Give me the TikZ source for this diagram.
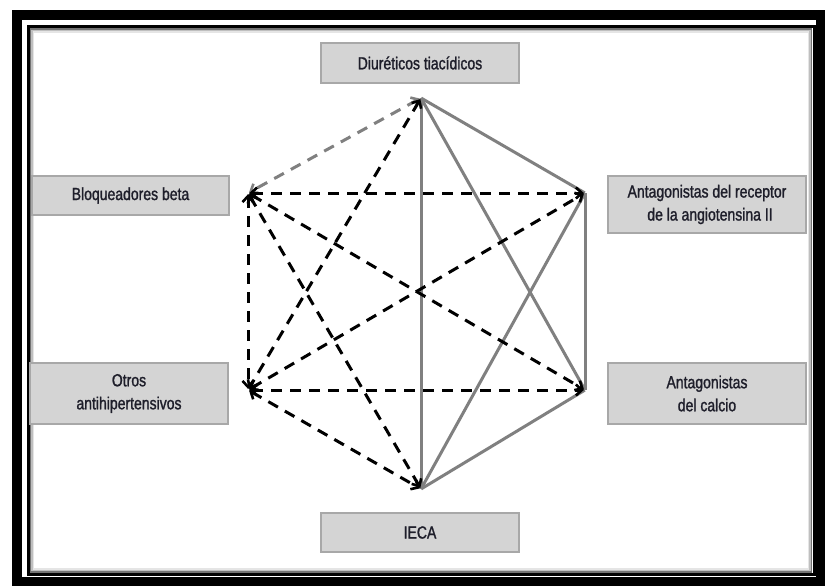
\documentclass[tikz,border=0pt]{standalone}
\usepackage{fontspec}
\setmainfont{Liberation Sans}[FakeStretch=0.8, FakeBold=1.3]
\usetikzlibrary{arrows.meta}
\definecolor{boxfill}{HTML}{D4D4D4}
\definecolor{boxline}{HTML}{A8A8A8}
\definecolor{txt}{HTML}{1E1E2A}
\definecolor{solidgray}{HTML}{808080}
\tikzset{
  labelbox/.style={draw=boxline, fill=boxfill, line width=1.2pt, inner sep=0pt, align=center,
     text=txt, font=\fontsize{17.5}{23}\selectfont},
  vtx/.style={inner sep=0pt, minimum size=0pt},
  dashlink/.style={black, line width=3pt, dash pattern=on 11pt off 8pt,
     {Straight Barb[length=6pt,width=11pt,line width=2.6pt]}-{Straight Barb[length=6pt,width=11pt,line width=2.6pt]}, shorten <=1pt, shorten >=1pt},
  greydash/.style={dashlink, solidgray},
  solidlink/.style={solidgray, line width=3pt},
}
\begin{document}
\begin{tikzpicture}[x=1pt,y=-1pt]
\useasboundingbox (0,0) rectangle (825,586);
\fill[white] (0,0) rectangle (825,586);
% frame
\draw[black, line width=10pt] (17,15) rectangle (821,582);
\draw[black, line width=3pt] (28,26.5) rectangle (814,574.5);
\draw[black!55, line width=1.5pt] (30.5,29) rectangle (811.5,572);
\draw[black!25, line width=1.5pt] (32,30.5) rectangle (810,570.5);
\draw[black!10, line width=1.5pt] (33.5,32) rectangle (808.5,569);
% label boxes
\node[labelbox, minimum width=198pt, minimum height=40pt] (diu) at (420,63) {Diuréticos tiacídicos};
\node[labelbox, minimum width=197pt, minimum height=39pt] (blo) at (130.5,195.5) {Bloqueadores beta};
\node[labelbox, minimum width=198pt, minimum height=57pt] (ara) at (707,204.5) {Antagonistas del receptor\\\hspace*{6pt}de la angiotensina II};
\node[labelbox, minimum width=198pt, minimum height=61pt] (otr) at (129,393.5) {Otros\\antihipertensivos};
\node[labelbox, minimum width=198pt, minimum height=61pt] (cal) at (707,393.5) {Antagonistas\\del calcio};
\node[labelbox, minimum width=198pt, minimum height=39pt] (iec) at (420,532.5) {IECA};
% vertices
\node[vtx] (T) at (421,98) {};
\node[vtx] (UL) at (248,193) {};
\node[vtx] (UR) at (585,193) {};
\node[vtx] (LL) at (248,390) {};
\node[vtx] (LR) at (585,390) {};
\node[vtx] (B) at (421,489) {};
% solid grey links
\draw[solidlink] (T) -- (UR);
\draw[solidlink] (T) -- (LR);
\draw[solidlink] (T) -- (B);
\draw[solidlink] (UR) -- (LR);
\draw[solidlink] (UR) -- (B);
\draw[solidlink] (LR) -- (B);
% dashed links
\draw[greydash] (T) -- (UL);
\draw[dashlink] (T) -- (LL);
\draw[dashlink] (UL) -- (UR);
\draw[dashlink] (UL) -- (LR);
\draw[dashlink] (UL) -- (LL);
\draw[dashlink] (UL) -- (B);
\draw[dashlink] (LL) -- (UR);
\draw[dashlink] (LL) -- (LR);
\draw[dashlink] (LL) -- (B);
\end{tikzpicture}
\end{document}
